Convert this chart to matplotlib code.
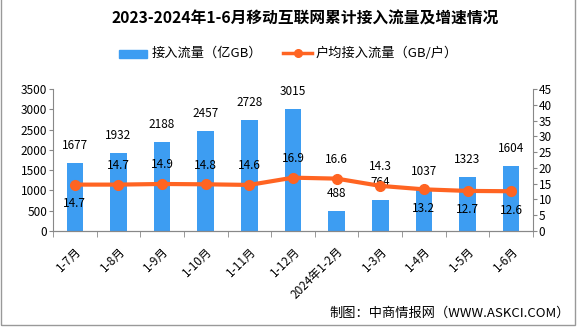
import matplotlib
matplotlib.use('Agg')
import matplotlib.pyplot as plt
import numpy as np

plt.rcParams['font.family'] = ['Noto Sans CJK SC', 'DejaVu Sans']

months = ['1-7月', '1-8月', '1-9月', '1-10月', '1-11月', '1-12月',
          '2024年1-2月', '1-3月', '1-4月', '1-5月', '1-6月']
traffic = [1677, 1932, 2188, 2457, 2728, 3015, 488, 764, 1037, 1323, 1604]
per_user = [14.7, 14.7, 14.9, 14.8, 14.6, 16.9, 16.6, 14.3, 13.2, 12.7, 12.6]
below = [True, False, False, False, False, False, False, False, True, True, True]

bar_c = '#3D9DF2'
line_c = '#FF6422'

W, H = 585, 327
fig = plt.figure(figsize=(W/100, H/100), dpi=100)
ax1 = fig.add_axes([53/W, 1 - 231/H, 480/W, 142/H])
ax2 = ax1.twinx()

x = np.arange(len(months))
ax1.bar(x, traffic, width=0.38, color=bar_c, zorder=2)
for xi, v in zip(x, traffic):
    ax1.annotate(str(v), (xi, v), xytext=(0, 8), textcoords='offset points',
                 ha='center', va='bottom', fontsize=8.5)

ax2.plot(x, per_user, color=line_c, lw=3, marker='o', ms=7, zorder=3)
for xi, v, b in zip(x, per_user, below):
    off = -9 if b else 9
    ax2.annotate(f'{v}', (xi, v), xytext=(0, off), textcoords='offset points',
                 ha='center', va='top' if b else 'bottom', fontsize=8.5)

ax1.set_xlim(-0.5, len(months) - 0.5)
ax1.set_ylim(0, 3500)
ax1.set_yticks(range(0, 3501, 500))
ax2.set_ylim(0, 45)
ax2.set_yticks(range(0, 46, 5))
ax1.set_xticks(x)
ax1.set_xticklabels(months, rotation=45, ha='right', rotation_mode='anchor', fontsize=8.5)
ax1.set_xticks(np.arange(-0.5, len(months), 1), minor=True)
ax1.tick_params(axis='x', which='major', length=0, pad=10)
ax1.tick_params(axis='x', which='minor', length=4, color='#888888')
ax1.tick_params(axis='y', labelsize=8.5, length=3, color='#888888', pad=1)
ax2.tick_params(axis='y', labelsize=8.5, length=3, color='#888888', pad=1)

for a in (ax1, ax2):
    a.spines['top'].set_visible(False)
    for s in ('left', 'right', 'bottom'):
        a.spines[s].set_color('#888888')
ax1.spines['right'].set_visible(False)
ax2.spines['left'].set_visible(False)

fig.text(305/W, 1 - 19/H, '2023-2024年1-6月移动互联网累计接入流量及增速情况',
         ha='center', va='center', fontsize=11.3, fontweight='bold')

# legend
fig.patches.append(plt.Rectangle((119/W, 1 - 58/H), 28/W, 8/H,
                                 transform=fig.transFigure, color=bar_c))
fig.text(152/W, 1 - 53/H, '接入流量（亿GB）', va='center', fontsize=9.5)
fig.add_artist(plt.Line2D([283/W, 312/W], [1 - 53/H, 1 - 53/H],
                          transform=fig.transFigure, color=line_c, lw=2.5))
fig.add_artist(plt.Line2D([297.5/W], [1 - 53/H], transform=fig.transFigure,
                          color=line_c, marker='o', ms=5.5))
fig.text(316/W, 1 - 53/H, '户均接入流量（GB/户）', va='center', fontsize=9.5)

fig.text(570/W, 1 - 313/H, '制图：中商情报网（WWW.ASKCI.COM）',
         ha='right', va='center', fontsize=9.5)

fig.patches.append(plt.Rectangle((1/W, 2/H), 574/W, 330/H, fill=False,
                                 transform=fig.transFigure, ec='#999999', lw=1))

fig.savefig('out.png', dpi=100)
